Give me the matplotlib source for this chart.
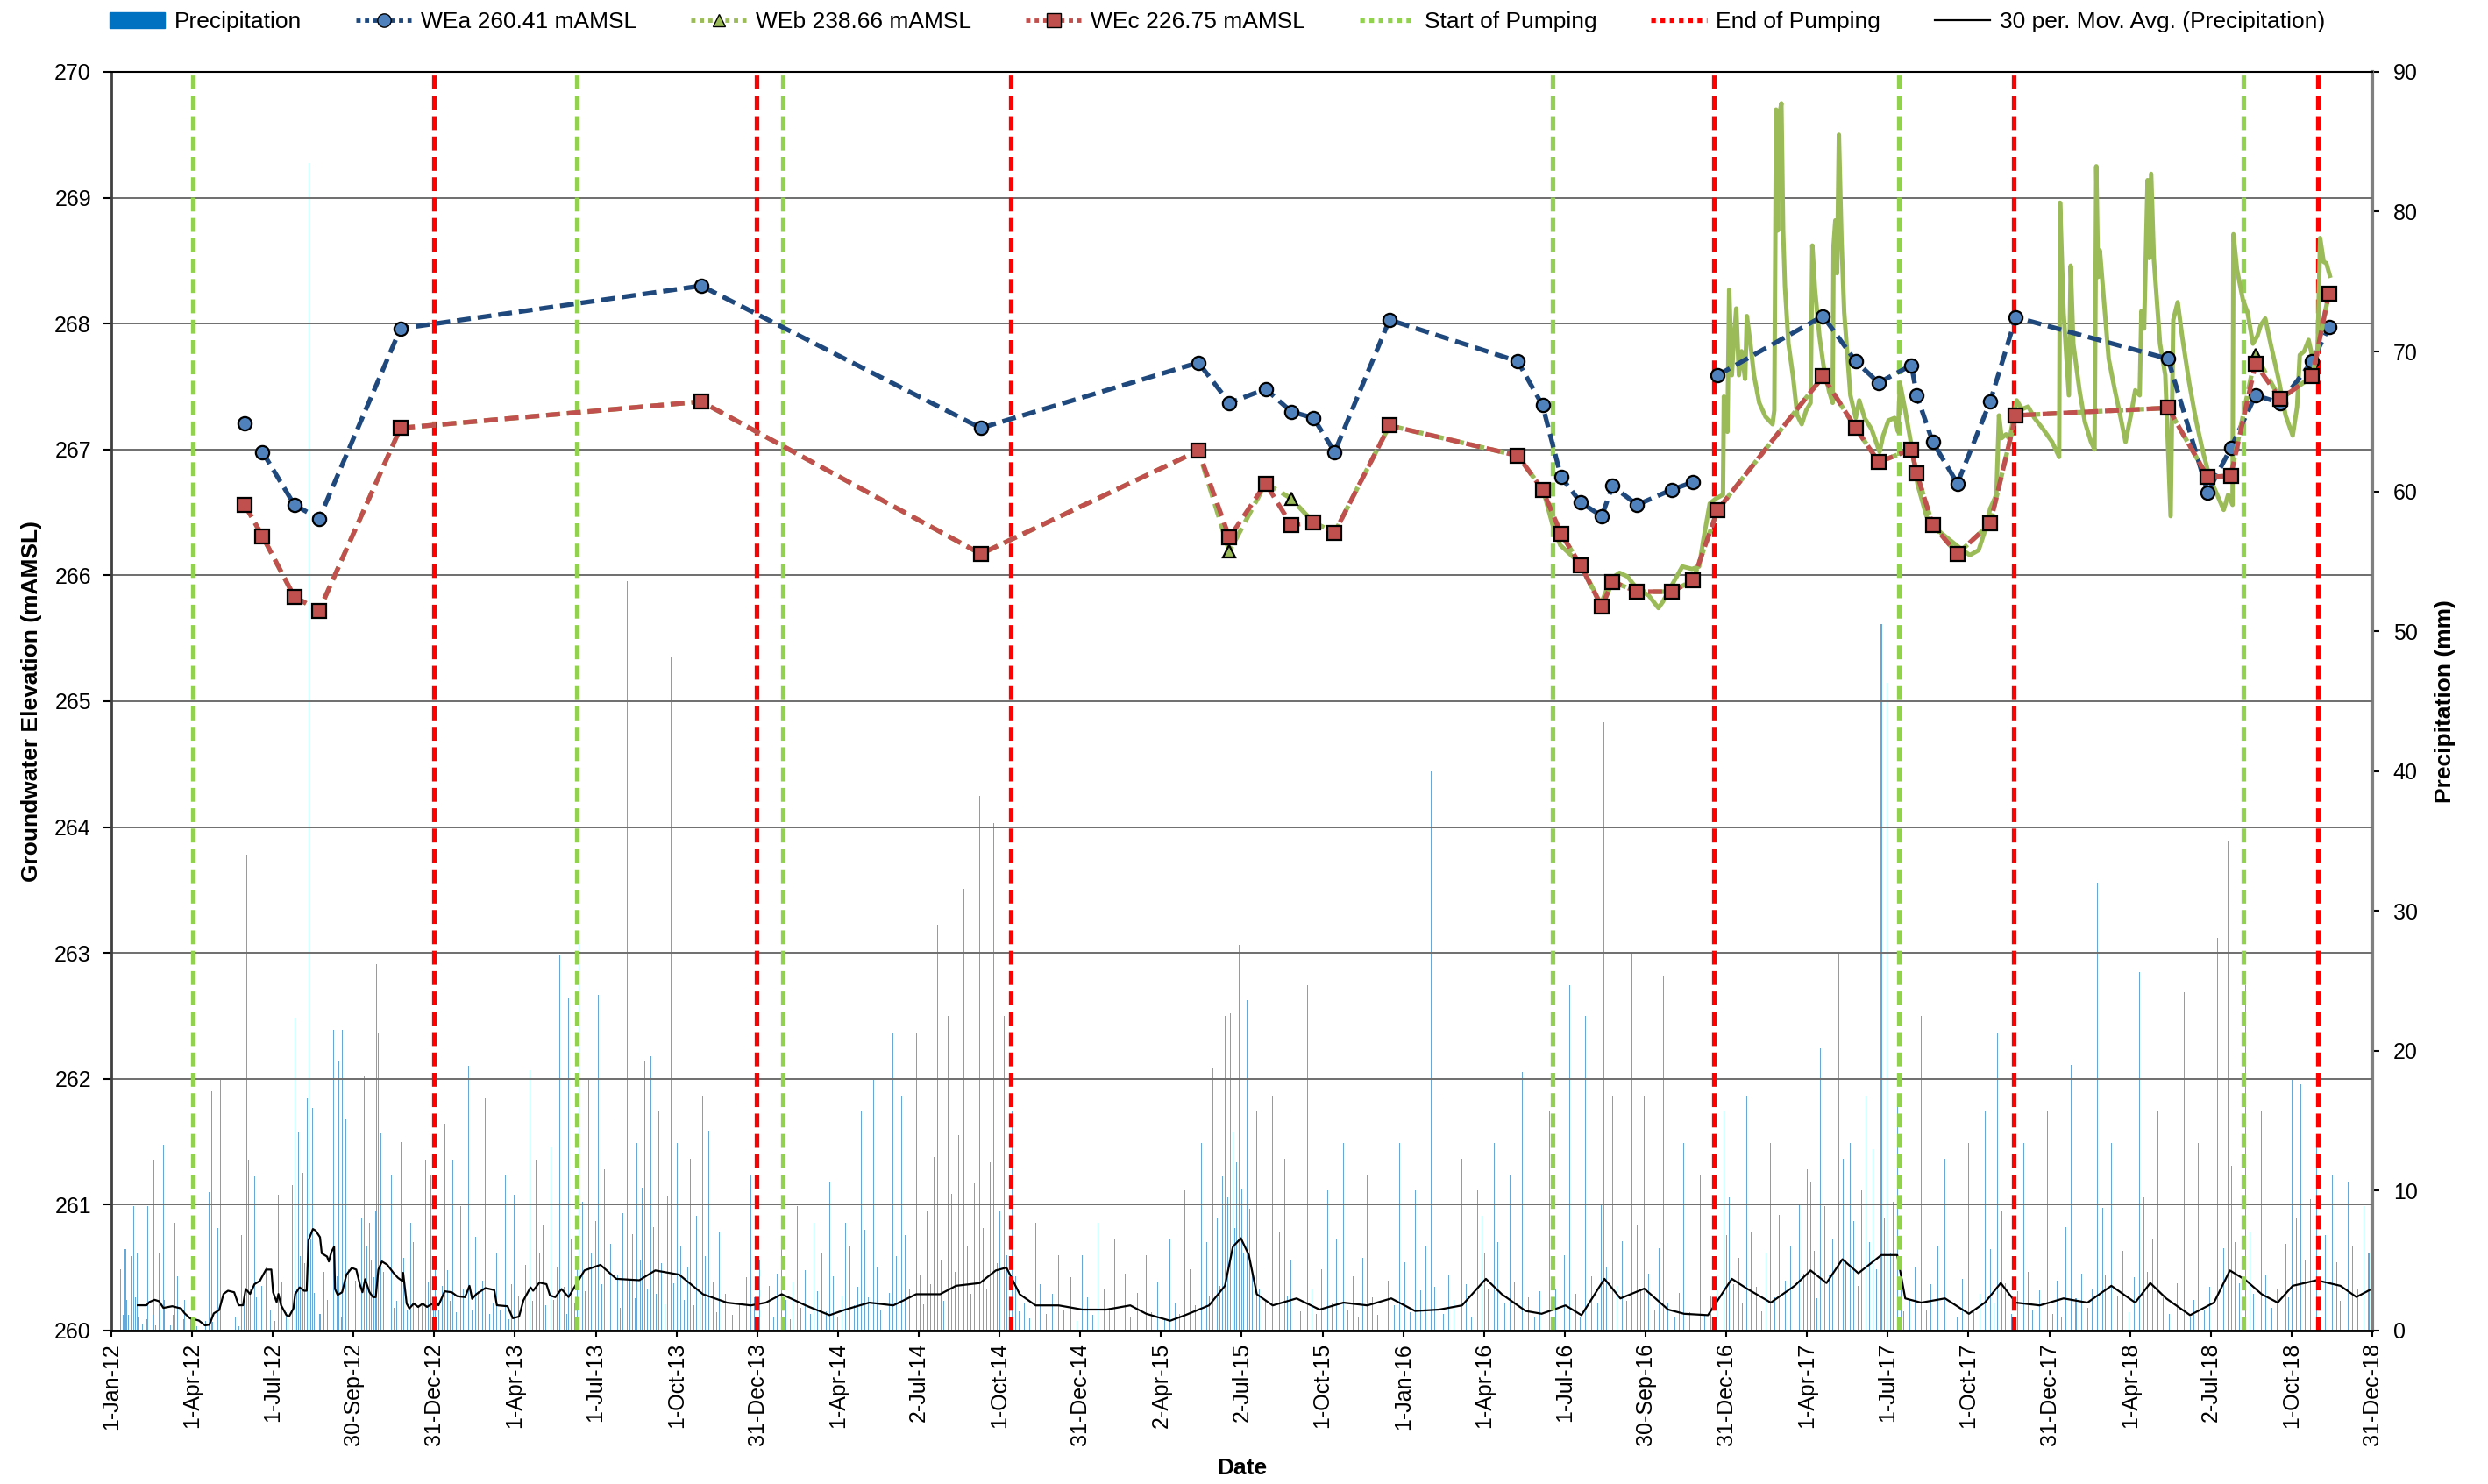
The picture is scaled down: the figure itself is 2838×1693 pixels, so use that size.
import numpy as np
import matplotlib
matplotlib.use("Agg")
import matplotlib.pyplot as plt
from matplotlib.lines import Line2D
from matplotlib.patches import Patch

plt.rcParams['font.family'] = ['Liberation Sans', 'DejaVu Sans']

# all x values are days counted from 1-Jan-2012
N_DAYS = 2556

tick_labels = ["1-Jan-12", "1-Apr-12", "1-Jul-12", "30-Sep-12", "31-Dec-12", "1-Apr-13",
               "1-Jul-13", "1-Oct-13", "31-Dec-13", "1-Apr-14", "2-Jul-14", "1-Oct-14",
               "31-Dec-14", "2-Apr-15", "2-Jul-15", "1-Oct-15", "1-Jan-16", "1-Apr-16",
               "1-Jul-16", "30-Sep-16", "31-Dec-16", "1-Apr-17", "1-Jul-17", "1-Oct-17",
               "31-Dec-17", "1-Apr-18", "2-Jul-18", "1-Oct-18", "31-Dec-18"]

start_pump = [92, 526, 759, 1629, 2021, 2410]
end_pump = [365, 730, 1017, 1812, 2151, 2495]

# manual water levels (mAMSL), nan = gap in the line
wea_day = [151, 160, 171, 207, 235, 327, 667, 983, 1229, 1264, 1305, 1334, 1359, 1383, 1445,
           1590, 1618, 1639, 1661, 1685, 1697, 1725, 1764, 1788, 1800, 1816, 1935, 1972, 1998,
           2035, 2041, 2059, 2087, 2124, 2153, 2325, 2370, 2396, 2424, 2452, 2488, 2507]
wea_val = [267.21, np.nan, 266.98, 266.56, 266.45, 267.96, 268.30, 267.17, 267.69, 267.37,
           267.48, 267.30, 267.25, 266.98, 268.03, 267.70, 267.35, 266.78, 266.58, 266.47,
           266.71, 266.56, 266.68, 266.74, np.nan, 267.59, 268.06, 267.70, 267.53, 267.67,
           267.43, 267.06, 266.73, 267.38, 268.05, 267.72, 266.66, 267.01, 267.43, 267.37,
           267.70, 267.97]

wec_day = [151, 171, 207, 235, 327, 667, 983, 1229, 1264, 1305, 1334, 1359, 1383, 1445,
           1590, 1618, 1639, 1661, 1685, 1697, 1725, 1764, 1788, 1816, 1935, 1972, 1998,
           2035, 2041, 2059, 2087, 2124, 2153, 2325, 2370, 2396, 2424, 2452, 2488, 2507]
wec_val = [266.56, 266.31, 265.83, 265.72, 267.17, 267.38, 266.17, 266.99, 266.30, 266.73,
           266.40, 266.42, 266.34, 267.19, 266.95, 266.68, 266.33, 266.08, 265.75, 265.95,
           265.87, 265.87, 265.96, 266.52, 267.58, 267.17, 266.90, 267.00, 266.81, 266.40,
           266.17, 266.41, 267.27, 267.33, 266.78, 266.79, 267.68, 267.40, 267.58, 268.24]

web_day = wec_day
web_val = [266.56, 266.31, 265.83, 265.72, 267.17, 267.38, 266.17, 266.99, 266.19, 266.73,
           266.61, 266.42, 266.34, 267.19, 266.95, 266.68, 266.33, 266.08, 265.75, 265.95,
           265.87, 265.87, 265.96, 266.52, 267.58, 267.17, 266.90, 267.00, 266.81, 266.40,
           266.17, 266.41, 267.27, 267.33, 266.78, 266.79, 267.75, 267.40, 267.58, 268.24]

# WEb data logger
log_day = [1619, 1629, 1638, 1661, 1684, 1695, 1705, 1714, 1724, 1738, 1749, 1754, 1764, 1776,
           1787, 1795, 1800, 1807, 1814, 1822, 1823, 1827, 1829, 1832, 1834, 1837, 1840, 1843,
           1847, 1849, 1853, 1857, 1863, 1870, 1878, 1880, 1882, 1884, 1886, 1888, 1890, 1892,
           1896, 1901, 1906, 1911, 1916, 1921, 1923, 1926, 1931, 1936, 1942, 1946, 1947, 1949,
           1951, 1953, 1956, 1959, 1966, 1972, 1976, 1982, 1990, 1999, 2003, 2009, 2016, 2020,
           2022, 2028, 2035, 2042, 2052, 2061, 2075, 2091, 2101, 2111, 2118, 2124, 2131, 2134,
           2137, 2142, 2146, 2149, 2154, 2160, 2167, 2174, 2184, 2194, 2202, 2203, 2207, 2213,
           2215, 2218, 2225, 2231, 2238, 2242, 2244, 2246, 2248, 2253, 2258, 2265, 2271, 2277,
           2283, 2288, 2293, 2295, 2298, 2302, 2304, 2306, 2309, 2316, 2322, 2328, 2331, 2336,
           2341, 2349, 2357, 2365, 2372, 2380, 2388, 2393, 2398, 2399, 2403, 2410, 2415, 2421,
           2426, 2430, 2435, 2441, 2450, 2458, 2466, 2471, 2474, 2479, 2484, 2489, 2494, 2497,
           2501, 2504, 2508]
log_val = [266.67, 266.41, 266.24, 266.09, 265.77, 265.97, 266.02, 265.99, 265.90, 265.84,
           265.74, 265.79, 265.92, 266.07, 266.05, 266.07, 266.29, 266.57, 266.61, 266.64,
           267.42, 267.14, 268.27, 267.59, 267.84, 268.12, 267.59, 267.78, 267.56, 268.06,
           267.84, 267.59, 267.37, 267.26, 267.20, 267.31, 269.70, 268.74, 269.67, 269.75,
           268.74, 268.30, 267.84, 267.59, 267.27, 267.20, 267.31, 267.37, 268.62, 268.27,
           267.90, 267.65, 267.46, 267.37, 268.62, 268.82, 268.40, 269.50, 268.65, 268.09,
           267.43, 267.25, 267.39, 267.25, 267.16, 266.98, 267.11, 267.23, 267.25, 267.14,
           267.53, 267.31, 267.03, 266.72, 266.47, 266.38, 266.30, 266.21, 266.16, 266.20,
           266.35, 266.53, 266.64, 267.27, 267.09, 267.12, 267.08, 267.20, 267.39, 267.32,
           267.34, 267.25, 267.16, 267.06, 266.94, 268.96, 268.09, 267.43, 268.46, 267.84,
           267.47, 267.22, 267.06, 267.00, 269.25, 268.37, 268.58, 268.15, 267.72, 267.47,
           267.27, 267.06, 267.27, 267.47, 267.43, 268.10, 267.96, 269.14, 268.52, 269.19,
           268.52, 267.84, 267.59, 266.47, 268.03, 268.17, 267.90, 267.53, 267.22, 266.97,
           266.78, 266.65, 266.52, 266.64, 266.56, 268.71, 268.43, 268.18, 268.09, 267.84,
           267.90, 267.99, 268.04, 267.84, 267.56, 267.27, 267.11, 267.34, 267.75, 267.78,
           267.87, 267.71, 267.75, 268.68, 268.49, 268.48, 268.38]

# daily precipitation (mm), days with rain - larger events
rain_day = [0, 11, 14, 16, 17, 19, 22, 25, 27, 29, 30, 35, 40, 41, 47, 48, 50, 54, 55, 59, 60,
            67, 70, 72, 75, 82, 83, 90, 97, 107, 111, 114, 115, 120, 121, 124, 127, 135, 140,
            144, 147, 150, 153, 155, 157, 159, 162, 164, 170, 175, 180, 185, 189, 193, 198, 200,
            205, 208, 210, 212, 214, 217, 219, 222, 224, 226, 228, 230, 236, 240, 244, 248, 251,
            255, 257, 260, 261, 265, 268, 272, 276, 280, 283, 286, 289, 292, 294, 297, 299, 300,
            302, 304, 305, 308, 312, 317, 320, 323, 328, 331, 335, 339, 342, 347, 351, 355, 358,
            361, 364, 366, 370, 374, 377, 380, 383, 386, 390, 395, 398, 401, 404, 408, 412, 415,
            420, 423, 428, 432, 436, 440, 446, 450, 453, 456, 460, 464, 468, 473, 476, 480, 484,
            488, 491, 497, 500, 504, 507,
            517, 529, 540, 551, 569, 583, 594, 603, 610, 619, 633, 640, 655, 669, 676, 690, 714,
            723, 758, 776, 794, 812, 830, 848, 862, 884, 894, 910, 934, 946, 964, 982, 998, 1009,
            1018, 1045, 1071, 1098, 1116, 1134, 1170, 1197, 1214, 1232, 1245, 1259, 1265, 1275,
            1284, 1295, 1313, 1327, 1340, 1352, 1375, 1393, 1420, 1438, 1456, 1474, 1492, 1501,
            1527, 1545, 1563, 1581, 1595, 1626, 1649, 1667, 1687, 1697, 1719, 1733, 1755, 1778,
            1796, 1823, 1849, 1876, 1903, 1921, 1932, 1953, 1966, 1984, 2001, 2007, 2019, 2046,
            2073, 2100, 2118, 2132, 2162, 2189, 2216, 2245, 2261, 2293, 2314, 2343, 2359, 2381,
            2393, 2413, 2431, 2465, 2475, 2493, 2511, 2529, 2547]
rain_mm = [3.3, 4.4, 1.1, 5.8, 2.2, 1.1, 5.3, 8.9, 2.4, 5.5, 1.0, 0.5, 0.8, 8.9, 1.1, 12.2, 0.4,
           5.5, 1.5, 13.3, 2.2, 0.4, 1.1, 7.7, 3.9, 0.8, 2.2, 1.0, 0.3, 0.7, 9.9, 17.1, 0.6, 0.9,
           7.3, 17.9, 14.8, 0.5, 1.0, 0.3, 6.8, 2.0, 34.0, 12.2, 3.0, 15.1, 11.0, 2.4, 3.2, 4.6,
           1.5, 0.7, 9.7, 3.5, 1.3, 0.8, 10.4, 22.4, 3.0, 14.2, 5.3, 11.3, 4.8, 16.6, 83.5, 6.5,
           15.9, 2.7, 1.2, 4.2, 2.2, 16.2, 21.5, 3.9, 19.3, 1.0, 21.5, 15.1, 4.4, 2.3, 3.6, 1.2,
           8.0, 18.2, 6.0, 7.7, 5.0, 3.8, 8.5, 26.2, 21.3, 6.5, 14.1, 4.2, 3.3, 11.1, 1.6, 2.1,
           13.5, 5.2, 1.5, 7.7, 6.3, 1.8, 2.0, 12.2, 3.5, 11.1, 2.2, 5.0, 1.5, 3.2, 14.8, 4.3,
           2.1, 12.2, 1.3, 8.9, 3.0, 5.2, 18.9, 1.5, 6.7, 2.8, 3.6, 16.6, 1.2, 2.0, 5.6, 1.5,
           11.1, 0.8, 3.3, 9.7, 2.5, 16.4, 4.7, 18.6, 2.1, 12.2, 5.5, 7.5, 1.8, 13.1, 2.2, 4.5,
           26.9,
           23.8, 28.1, 17.9, 24.0, 15.1, 53.6, 13.4, 19.3, 19.6, 15.7, 48.2, 13.4, 12.3, 16.8,
           14.3, 11.1, 16.2, 11.1, 6.6, 8.9, 7.7, 10.6, 7.7, 15.7, 17.9, 21.3, 16.8, 21.3, 29.0,
           22.5, 31.6, 38.2, 36.3, 22.5, 15.7, 7.7, 5.4, 5.4, 7.7, 6.6, 5.4, 6.6, 10.0, 13.4,
           18.8, 22.5, 22.7, 27.6, 23.6, 15.7, 16.8, 12.3, 15.7, 24.7, 10.0, 13.4, 11.1, 8.9,
           13.4, 10.0, 40.0, 16.8, 12.3, 10.0, 13.4, 11.1, 18.5, 15.7, 24.7, 22.5, 43.5, 16.8,
           27.0, 16.8, 25.3, 13.4, 11.1, 15.7, 16.8, 13.4, 15.7, 10.6, 20.2, 27.0, 13.4, 16.8,
           50.5, 46.3, 16.8, 22.5, 12.3, 13.4, 15.7, 21.3, 13.4, 15.7, 19.0, 32.0, 13.4, 25.6,
           15.7, 24.2, 13.4, 28.1, 35.0, 24.7, 15.7, 17.9, 17.6, 13.4, 11.1, 10.6, 8.9]

# smaller daily falls after mid-2013
small_day = [512, 515, 520, 524, 527, 533, 536, 543, 546, 548, 555, 558, 562, 565, 572, 575,
             578, 586, 589, 592, 598, 600, 606, 613, 616, 622, 626, 629, 636, 644, 648, 652,
             659, 662, 666, 672, 680, 684, 687, 694, 698, 702, 706, 710, 718, 727, 733, 738,
             744, 749, 753,
             763, 768, 771, 780, 785, 790, 798, 803, 808, 816, 821, 826, 835, 840, 844, 852,
             856, 866, 870, 875, 880, 888, 891, 898, 902, 906, 914, 918, 922, 926, 930, 938,
             941, 950, 954, 958, 968, 972, 976, 986, 990, 994, 1002, 1005, 1012, 1015, 1022,
             1026,
             1032, 1038, 1050, 1057, 1064, 1077, 1085, 1092, 1104, 1110, 1122, 1128, 1140, 1146,
             1152, 1160, 1176, 1183, 1191, 1203, 1208, 1220, 1226, 1238, 1241, 1250, 1253, 1256,
             1262, 1268, 1270, 1272, 1278, 1280, 1287, 1290, 1298,
             1305, 1309, 1317, 1321, 1330, 1334, 1344, 1348, 1357, 1362, 1368, 1380, 1385, 1398,
             1404, 1410, 1415, 1426, 1432, 1444, 1450, 1462, 1468, 1480, 1486, 1496, 1506, 1512,
             1518, 1532, 1538, 1550, 1553, 1557, 1567, 1575, 1586, 1590, 1602, 1609, 1615, 1622,
             1633, 1638, 1643, 1656, 1661, 1673, 1680, 1684, 1690, 1702, 1708, 1713, 1725, 1729,
             1738, 1745, 1750, 1760, 1768, 1773, 1784, 1790, 1801, 1808, 1815, 1826, 1829, 1834,
             1840, 1844, 1854, 1860, 1866, 1871, 1881, 1886, 1892, 1898, 1908, 1913, 1917, 1925,
             1928, 1937, 1942, 1946, 1958, 1961, 1970, 1975, 1979, 1988, 1992, 1996, 2004, 2011,
             2014, 2023, 2026,
             2033, 2039, 2052, 2057, 2065, 2080, 2087, 2093, 2106, 2112, 2124, 2128, 2137, 2141,
             2148, 2155,
             2167, 2172, 2180, 2185, 2195, 2200, 2205, 2210, 2221, 2227, 2234, 2239, 2251, 2254,
             2268, 2274, 2281, 2287, 2298, 2302, 2308, 2320, 2327, 2335, 2350, 2354, 2366, 2372,
             2388, 2397, 2401, 2406, 2418, 2422, 2436, 2442, 2448, 2458, 2461, 2470, 2480, 2486,
             2498, 2503, 2516, 2520, 2534, 2540, 2552]
small_mm = [3.1, 1.2, 6.5, 2.0, 4.4, 9.2, 2.8, 5.5, 1.4, 7.8, 3.3, 11.5, 2.1, 6.2, 4.0, 1.6,
            8.4, 3.7, 6.9, 2.3, 5.1, 10.2, 3.0, 7.4, 2.6, 4.8, 1.9, 9.6, 3.4, 6.1, 2.2, 4.5,
            1.8, 8.2, 2.9, 5.3, 3.5, 1.3, 7.0, 2.6, 4.9, 1.1, 6.4, 2.0, 3.8, 2.4, 5.0, 1.5,
            3.2, 1.0, 4.1,
            2.2, 0.8, 3.5, 1.6, 4.3, 1.2, 2.8, 5.6, 1.4, 3.9, 1.0, 2.5, 6.0, 1.8, 3.1, 7.2,
            2.4, 4.6, 1.5, 9.1, 2.7, 5.3, 1.2, 6.8, 3.0, 11.2, 4.0, 1.9, 8.5, 3.3, 12.4, 5.0,
            2.1, 9.8, 4.2, 14.0, 6.1, 2.6, 10.5, 7.3, 3.0, 12.0, 4.8, 8.6, 5.4, 2.3, 3.9,
            1.4,
            2.0, 0.9, 3.3, 1.2, 2.6, 1.5, 3.8, 0.7, 2.4, 1.1, 3.0, 1.6, 2.2, 4.1,
            1.0, 2.7, 1.3, 3.5, 0.8, 2.0, 1.2, 4.4, 1.8, 6.3, 2.5, 8.0, 3.2, 11.0,
            9.5, 14.2, 7.3, 12.0, 10.1, 5.6, 8.7, 4.2, 3.0,
            2.1, 4.8, 1.6, 7.0, 2.5, 5.1, 1.4, 8.8, 3.0, 1.2, 4.4, 2.0, 6.6, 1.5,
            3.9, 1.0, 5.2, 2.4, 1.1, 3.6, 1.8, 4.9, 1.3, 2.9, 6.1, 3.1, 1.2, 4.0,
            2.2, 3.3, 1.0, 8.2, 5.5, 3.0, 6.3, 2.0, 3.5, 1.2, 2.4, 1.0, 2.8, 1.4,
            3.0, 1.2, 5.4, 2.6, 1.0, 3.9, 2.0, 9.0, 4.5, 3.2, 6.4, 2.1, 7.5, 3.0,
            4.1, 1.5, 5.9, 2.0, 1.0, 2.7, 1.3, 3.4, 1.1, 2.5, 4.0, 6.8, 9.5, 3.3,
            5.2, 2.0, 7.0, 3.1, 1.4, 5.5, 2.4, 8.3, 3.6, 6.0, 9.0, 4.1, 11.5, 5.7,
            2.3, 8.9, 4.0, 6.5, 12.3, 5.0, 7.8, 3.2, 10.0, 6.3, 13.0, 4.4, 8.0, 5.5,
            9.2, 3.0, 1.4,
            2.2, 4.6, 1.5, 3.3, 6.0, 2.1, 1.0, 3.7, 1.4, 2.6, 5.8, 2.0, 8.6, 3.4,
            1.2, 2.8,
            4.2, 1.5, 2.9, 6.3, 1.2, 3.6, 1.0, 7.4, 2.3, 4.1, 1.6, 3.0, 8.8, 4.0,
            2.5, 5.7, 1.3, 3.8, 9.5, 4.2, 6.6, 2.4, 1.2, 3.4, 1.0, 2.2, 1.5, 3.1,
            5.9, 11.8, 6.3, 3.4, 7.1, 2.6, 4.0, 1.6, 3.0, 6.2, 2.4, 8.0, 5.1, 9.4,
            3.7, 6.8, 4.9, 2.1, 6.0, 3.0, 5.5]

# 30 day moving average of precipitation (mm)
ma_day = [30, 40, 43, 49, 54, 59, 69, 79, 83, 89, 99, 106, 111, 116, 122, 127, 132, 139, 144,
          149, 152, 157, 162, 168, 175, 181, 183, 187, 189, 192, 198, 201, 206, 208, 213, 218,
          221, 223, 228, 231, 236, 238, 244, 246, 249, 252, 253, 256, 261, 266, 272, 277, 281,
          284, 287, 292, 296, 299, 302, 306, 312, 319, 324, 329, 330, 334, 337, 342, 347, 352,
          357, 360, 367, 370, 377, 385, 391, 400, 405, 408, 413, 423, 433, 436, 448, 454, 461,
          466, 474, 477, 484, 492, 496, 502, 509, 517, 535, 553, 571, 597, 615, 642, 669, 696,
          723, 740, 758, 785, 812, 830, 857, 884, 910, 937, 955, 982, 1000, 1012, 1027, 1045,
          1071, 1098, 1125, 1152, 1170, 1197, 1214, 1241, 1259, 1268, 1277, 1286, 1295, 1313,
          1340, 1366, 1393, 1420, 1447, 1474, 1501, 1527, 1554, 1572, 1599, 1617, 1644, 1662,
          1688, 1706, 1733, 1760, 1778, 1805, 1832, 1849, 1876, 1903, 1921, 1939, 1957, 1975,
          2001, 2019, 2028, 2046, 2073, 2100, 2118, 2136, 2153, 2180, 2207, 2234, 2261, 2288,
          2305, 2323, 2350, 2377, 2395, 2413, 2431, 2449, 2466, 2493, 2520, 2538, 2556]
ma_mm = [1.81, 1.81, 2.04, 2.20, 2.10, 1.62, 1.74, 1.58, 1.23, 0.88, 0.72, 0.37, 0.42, 1.23,
         1.46, 2.62, 2.85, 2.74, 1.81, 1.81, 2.97, 2.62, 3.32, 3.55, 4.36, 4.36, 2.74, 2.04,
         2.62, 1.81, 1.11, 1.00, 1.58, 2.62, 3.09, 2.85, 2.85, 6.45, 7.26, 7.15, 6.68, 5.52,
         5.29, 4.94, 5.64, 5.99, 2.97, 2.55, 2.74, 4.01, 4.48, 4.36, 3.32, 2.74, 3.67, 2.74,
         2.39, 2.39, 4.36, 4.94, 4.71, 4.13, 3.78, 3.55, 4.13, 1.93, 1.58, 1.93, 1.69, 1.93,
         1.69, 1.81, 2.04, 1.81, 2.81, 2.74, 2.46, 2.39, 3.20, 2.27, 2.62, 3.04, 2.90, 1.81,
         1.74, 0.88, 1.00, 2.16, 3.09, 2.85, 3.43, 3.32, 2.51, 2.39, 2.97, 2.4, 4.3, 4.7, 3.7,
         3.6, 4.3, 4.0, 2.6, 2.0, 1.8, 2.0, 2.6, 1.8, 1.1, 1.5, 2.0, 1.8, 2.6, 2.6, 3.2, 3.4,
         4.3, 4.5, 2.6, 1.8, 1.8, 1.5, 1.5, 1.8, 1.2, 0.7, 1.1, 1.8, 3.2, 6.0, 6.6, 5.4, 2.6,
         1.8, 2.3, 1.5, 2.0, 1.8, 2.3, 1.4, 1.5, 1.8, 3.7, 2.6, 1.4, 1.2, 1.8, 1.1, 3.7, 2.3,
         3.0, 1.5, 1.2, 1.1, 3.7, 3.0, 2.0, 3.2, 4.3, 3.4, 5.1, 4.1, 5.4, 5.4, 2.3, 2.0, 2.3,
         1.2, 2.0, 3.4, 2.0, 1.8, 2.3, 2.0, 3.2, 2.0, 3.4, 2.3, 1.1, 2.0, 4.3, 3.6, 2.6, 2.0,
         3.2, 3.6, 3.2, 2.4, 3.0]

C_WEA, C_WEA_M = "#1F497D", "#4F81BD"
C_WEB = "#9BBB59"
C_WEC = "#C0504D"
C_START, C_END = "#92D050", "#FF0000"
C_RAIN = "#0070C0"
FS = 18

fig = plt.figure(figsize=(28.38, 16.93), dpi=100)
ax = fig.add_axes([0.0447, 0.1034, 0.9088, 0.8482])
ax2 = ax.twinx()

# precipitation on the secondary axis, behind the groundwater levels
ax2.bar(rain_day + small_day, rain_mm + small_mm, width=1.0, color=C_RAIN, alpha=0.6,
        linewidth=0)
ax2.plot(ma_day, ma_mm, color="black", lw=1.6)
ax2.set_ylim(0, 90)
ax2.set_yticks(np.arange(0, 91, 10))
ax2.set_ylabel("Precipitation (mm)", fontsize=19, fontweight="bold", labelpad=14)
ax.set_zorder(ax2.get_zorder() + 1)
ax.patch.set_visible(False)

ax.set_xlim(0, N_DAYS)
ax.set_ylim(260, 270)
ax.set_yticks(np.arange(260, 271, 1))
ax.yaxis.grid(True, color="#6E6E6E", lw=1.4)
ax.set_axisbelow(True)
ax.set_xticks(np.linspace(0, N_DAYS, len(tick_labels)))
ax.set_xticklabels(tick_labels, rotation=90)

for d in start_pump:
    ax.axvline(d, color=C_START, lw=3.8, dashes=(3.0, 1.4), zorder=2)
for d in end_pump:
    ax.axvline(d, color=C_END, lw=3.8, dashes=(3.0, 1.4), zorder=2)

ax.plot(log_day, log_val, color=C_WEB, lw=3.6, zorder=3)
ax.plot(wea_day, wea_val, color=C_WEA, lw=3.8, dashes=(3.0, 1.5), marker="o", ms=11,
        mfc=C_WEA_M, mec="black", mew=1.6, zorder=4)
ax.plot(web_day, web_val, color=C_WEB, lw=3.8, dashes=(3.0, 1.5), marker="^", ms=10,
        mfc=C_WEB, mec="black", mew=1.6, zorder=5)
ax.plot(wec_day, wec_val, color=C_WEC, lw=3.8, dashes=(3.0, 1.5), marker="s", ms=11,
        mfc=C_WEC, mec="black", mew=1.6, zorder=6)

ax.set_ylabel("Groundwater Elevation (mAMSL)", fontsize=19, fontweight="bold", labelpad=10)
ax.set_xlabel("Date", fontsize=19, fontweight="bold", labelpad=10)

ax.tick_params(axis="y", labelsize=FS, length=6.5, width=1.5, pad=10)
ax.tick_params(axis="x", labelsize=FS, length=5, width=1.5, pad=5)
ax2.tick_params(axis="y", labelsize=FS, length=6, width=1.5, pad=11)
for a in (ax, ax2):
    for s in a.spines.values():
        s.set_visible(False)
ax.spines["left"].set_visible(True)
ax.spines["left"].set_color("#404040")
ax.spines["left"].set_linewidth(2)
ax.spines["bottom"].set_visible(True)
ax.spines["bottom"].set_linewidth(2)
ax.spines["top"].set_visible(True)
ax.spines["top"].set_linewidth(1.5)
ax2.spines["right"].set_visible(True)
ax2.spines["right"].set_color("#808080")
ax2.spines["right"].set_linewidth(3)

handles = [
    Patch(color=C_RAIN),
    Line2D([], [], color=C_WEA, lw=3.5, dashes=(1, 1), marker="o", ms=11, mfc=C_WEA_M, mec="black"),
    Line2D([], [], color=C_WEB, lw=3.5, dashes=(1, 1), marker="^", ms=10, mfc=C_WEB, mec="black"),
    Line2D([], [], color=C_WEC, lw=3.5, dashes=(1, 1), marker="s", ms=11, mfc=C_WEC, mec="black"),
    Line2D([], [], color=C_START, lw=3.8, dashes=(1, 1)),
    Line2D([], [], color=C_END, lw=3.8, dashes=(1, 1)),
    Line2D([], [], color="black", lw=1.6),
]
names = ["Precipitation", "WEa 260.41 mAMSL", "WEb 238.66 mAMSL", "WEc 226.75 mAMSL",
         "Start of Pumping", "End of Pumping", "30 per. Mov. Avg. (Precipitation)"]
fig.legend(handles, names, loc="center left", bbox_to_anchor=(0.044, 0.985), ncol=7,
           frameon=False, fontsize=19, handlelength=2.4, columnspacing=2.35,
           handletextpad=0.4, borderpad=0, borderaxespad=0)

fig.savefig("out.png", dpi=100)
